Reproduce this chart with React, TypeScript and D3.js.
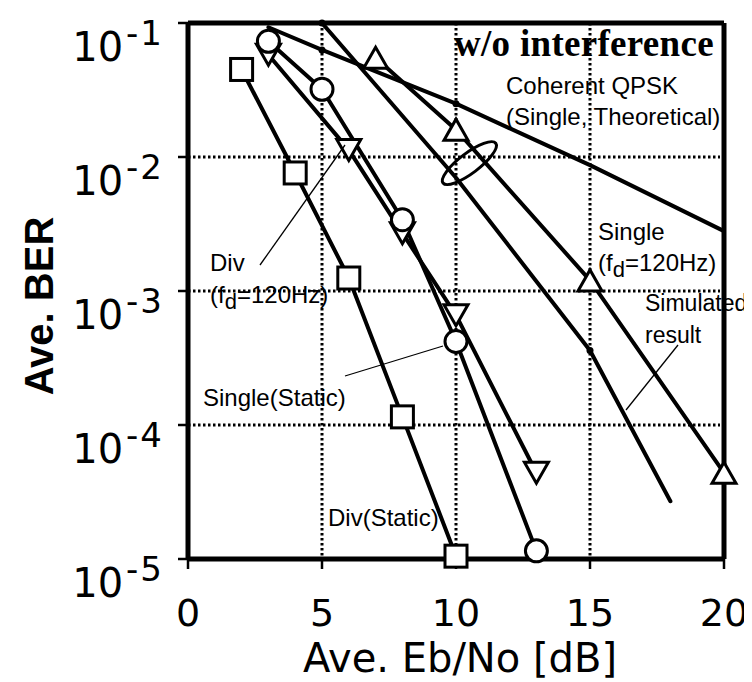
import React from "react";
import * as d3 from "d3";

// Eb/No (dB) and average BER for each curve
const ebnoDivStatic = [2, 4, 6, 8, 10];
const berDivStatic = [4.5e-2, 7.6e-3, 1.25e-3, 1.15e-4, 1.05e-5];

const ebnoSingleStatic = [3, 5, 8, 10, 13];
const berSingleStatic = [7.3e-2, 3.2e-2, 3.4e-3, 4.2e-4, 1.15e-5];

const ebnoDivFd = [3, 6, 8, 10, 13];
const berDivFd = [5.8e-2, 1.13e-2, 2.7e-3, 6.6e-4, 4.4e-5];

const ebnoSingleFd = [7, 10, 15, 20];
const berSingleFd = [5.5e-2, 1.6e-2, 1.2e-3, 4.4e-5];

const ebnoTheory = [3, 5, 10, 15, 20];
const berTheory = [0.093, 0.063, 0.025, 0.0087, 0.0028];

const ebnoSimulated = [5, 10, 15, 18];
const berSimulated = [0.1, 7e-3, 3.6e-4, 2.7e-5];

const xTicks = [0, 5, 10, 15, 20];
const yTickExps = [-1, -2, -3, -4, -5];
const xGrid = [5, 10, 15];
const yGrid = [1e-2, 1e-3, 1e-4];

const W = 752;
const H = 682;

const x = d3.scaleLinear().domain([0, 20]).range([180, 716]);
const y = d3.scaleLog().domain([1e-5, 1e-1]).range([551, 15]);

const zip = (xs: number[], ys: number[]) => xs.map((v, i) => [v, ys[i]] as [number, number]);

const line = d3
  .line<[number, number]>()
  .x((d) => x(d[0]))
  .y((d) => y(d[1]));

const SANS = "'Liberation Sans', Arial, Helvetica, sans-serif";
const TICKFONT = "'DejaVu Sans', Verdana, sans-serif";

function Square({ cx, cy }: { cx: number; cy: number }) {
  const s = 22;
  return <rect x={cx - s / 2} y={cy - s / 2} width={s} height={s} fill="#fff" stroke="#000" strokeWidth={3} />;
}
function Circle({ cx, cy }: { cx: number; cy: number }) {
  return <circle cx={cx} cy={cy} r={11} fill="#fff" stroke="#000" strokeWidth={3} />;
}
function Tri({ cx, cy, down }: { cx: number; cy: number; down?: boolean }) {
  const hw = 12;
  const h = 21;
  const pts = down
    ? [[cx - hw, cy - h / 2], [cx + hw, cy - h / 2], [cx, cy + h / 2]]
    : [[cx - hw, cy + h / 2], [cx + hw, cy + h / 2], [cx, cy - h / 2]];
  return <polygon points={pts.map((p) => p.join(",")).join(" ")} fill="#fff" stroke="#000" strokeWidth={3} strokeLinejoin="miter" />;
}

export default function App() {
  const divStatic = zip(ebnoDivStatic, berDivStatic);
  const singleStatic = zip(ebnoSingleStatic, berSingleStatic);
  const divFd = zip(ebnoDivFd, berDivFd);
  const singleFd = zip(ebnoSingleFd, berSingleFd);
  const theory = zip(ebnoTheory, berTheory);
  const simulated = zip(ebnoSimulated, berSimulated);

  const [x0, x1] = x.range();
  const [yb, yt] = y.range();

  const lineStyle = { fill: "none", stroke: "#000", strokeWidth: 4, strokeLinejoin: "round" as const, strokeLinecap: "round" as const };

  return (
    <svg width={W} height={H} viewBox={`0 0 ${W} ${H}`} style={{ display: "block", background: "#fff" }}>
      {/* dotted grid */}
      <g stroke="#000" strokeWidth={3} strokeDasharray="2.5,2.5">
        {xGrid.map((v) => (
          <line key={"gx" + v} x1={x(v)} x2={x(v)} y1={yt} y2={yb} />
        ))}
        {yGrid.map((v) => (
          <line key={"gy" + v} x1={x0} x2={x1 - 4} y1={y(v)} y2={y(v)} />
        ))}
      </g>

      {/* curves */}
      <path d={line(theory) || ""} {...lineStyle} />
      <path d={line(simulated) || ""} {...lineStyle} />
      <path d={line(singleFd) || ""} {...lineStyle} />
      <path d={line(divFd) || ""} {...lineStyle} />
      <path d={line(singleStatic) || ""} {...lineStyle} />
      <path d={line(divStatic) || ""} {...lineStyle} />

      {/* small joint dots on the unmarked curves */}
      {[theory[1], theory[2], simulated[0], simulated[2]].map((d, i) => (
        <circle key={"dot" + i} cx={x(d[0])} cy={y(d[1])} r={3.5} fill="#000" />
      ))}

      {/* frame */}
      <g stroke="#000" fill="none">
        <line x1={x0} x2={x1} y1={yt} y2={yt} strokeWidth={5} />
        <line x1={x1} x2={x1} y1={yt} y2={yb} strokeWidth={5} />
        <line x1={x0} x2={x1} y1={yb} y2={yb} strokeWidth={5} />
        <line x1={x0} x2={x0} y1={yt} y2={yb} strokeWidth={5} />
        {yTickExps.map((e) => (
          <line key={"ty" + e} x1={x0 - 10} x2={x0} y1={y(Math.pow(10, e))} y2={y(Math.pow(10, e))} strokeWidth={2.5} />
        ))}
        {xTicks.map((v) => (
          <line key={"tx" + v} x1={x(v)} x2={x(v)} y1={yb} y2={yb + 10} strokeWidth={2.5} />
        ))}
      </g>

      {/* markers */}
      {divFd.map((d, i) => (
        <Tri key={"td" + i} cx={x(d[0])} cy={y(d[1])} down />
      ))}
      {singleFd.map((d, i) => (
        <Tri key={"tu" + i} cx={x(d[0])} cy={y(d[1])} />
      ))}
      {divStatic.map((d, i) => (
        <Square key={"sq" + i} cx={x(d[0])} cy={y(d[1])} />
      ))}
      {singleStatic.map((d, i) => (
        <Circle key={"ci" + i} cx={x(d[0])} cy={y(d[1])} />
      ))}

      {/* annotation: simulated group ellipse */}
      <ellipse
        cx={x(10.5)}
        cy={y(9e-3)}
        rx={33}
        ry={10}
        fill="none"
        stroke="#000"
        strokeWidth={3}
        transform={`rotate(-37 ${x(10.5)} ${y(9e-3)})`}
      />

      {/* pointer lines */}
      <g stroke="#000" strokeWidth={1.3}>
        <line x1={252} y1={257} x2={337} y2={137} />
        <line x1={337} y1={368} x2={435} y2={338} />
        <line x1={670} y1={337} x2={618} y2={402} />
      </g>

      {/* annotation text */}
      <text x={446} y={48} fontFamily="'Liberation Serif', 'Times New Roman', serif" fontWeight="bold" fontSize={37} letterSpacing={0.3}>
        w/o interference
      </text>
      <g fontFamily={SANS} fontSize={24} fill="#000">
        <text x={498} y={86}>Coherent QPSK</text>
        <text x={498} y={117}>(Single, Theoretical)</text>
        <text x={590} y={232}>Single</text>
        <text x={590} y={263}>
          (f<tspan dy={6} fontSize={22}>d</tspan>
          <tspan dy={-6}>=120Hz)</tspan>
        </text>
        <text x={637} y={303} fontSize={23}>Simulated</text>
        <text x={637} y={335} fontSize={23}>result</text>
        <text x={202} y={263}>Div</text>
        <text x={202} y={295}>
          (f<tspan dy={6} fontSize={22}>d</tspan>
          <tspan dy={-6}>=120Hz)</tspan>
        </text>
        <text x={195} y={398}>Single(Static)</text>
        <text x={320} y={518}>Div(Static)</text>
      </g>

      {/* y tick labels */}
      <g fontFamily={TICKFONT} fill="#000">
        {yTickExps.map((e) => {
          const ty = y(Math.pow(10, e));
          return (
            <text key={"ly" + e} x={156} y={ty + 38} textAnchor="end" fontSize={40}>
              10
              <tspan dx={3} dy={-16} fontSize={34} letterSpacing={2}>
                {"-" + Math.abs(e)}
              </tspan>
            </text>
          );
        })}
      </g>

      {/* x tick labels */}
      <g fontFamily={TICKFONT} fontSize={38} fill="#000" textAnchor="middle">
        {xTicks.map((v) => (
          <text key={"lx" + v} x={x(v)} y={618}>
            {v}
          </text>
        ))}
      </g>

      {/* axis titles */}
      <text x={452} y={664} textAnchor="middle" fontFamily={TICKFONT} fontSize={40}>
        Ave. Eb/No [dB]
      </text>
      <text
        transform={`translate(45, 298) rotate(-90)`}
        textAnchor="middle"
        fontFamily={SANS}
        fontWeight="bold"
        fontSize={40}
      >
        Ave. BER
      </text>
    </svg>
  );
}
